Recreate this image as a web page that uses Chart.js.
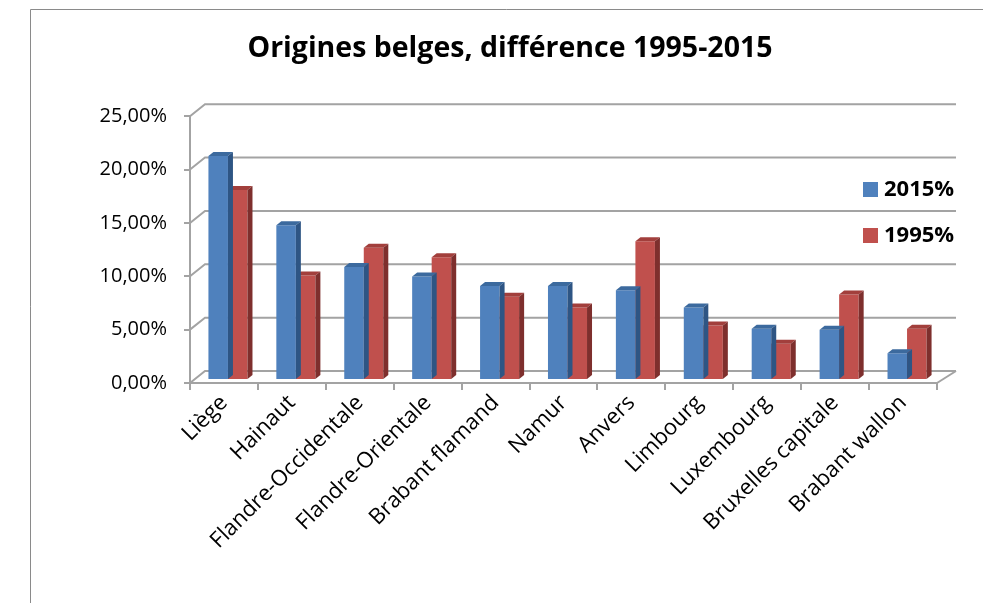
<!DOCTYPE html>
<html>
<head>
<meta charset="utf-8">
<script src="https://cdn.jsdelivr.net/npm/chart.js@4"></script>
<style>
  html, body { margin: 0; padding: 0; background: #fff; }
  #wrap { position: relative; width: 983px; height: 603px; }
</style>
</head>
<body>
<div id="wrap"><canvas id="chart" width="983" height="603"></canvas></div>
<script>
// Données
const provinces = ['Liège', 'Hainaut', 'Flandre-Occidentale', 'Flandre-Orientale', 'Brabant flamand',
    'Namur', 'Anvers', 'Limbourg', 'Luxembourg', 'Bruxelles capitale', 'Brabant wallon'];
const valeurs2015 = [21.0, 14.5, 10.6, 9.7, 8.8, 8.8, 8.4, 6.8, 4.8, 4.7, 2.5];
const valeurs1995 = [17.8, 9.8, 12.4, 11.5, 7.8, 6.8, 13.0, 5.1, 3.4, 8.0, 4.8];
const seriesLabels = ['2015%', '1995%'];
const yTicks = [0, 5, 10, 15, 20, 25];

// Couleurs des faces (avant, dessus, côté)
const faces = [
    { front: '#4F81BD', top: '#3C6A9E', side: '#2E5584' },
    { front: '#C0504D', top: '#A23F3C', side: '#7E2F2D' }
];

const DEPTH_X = 5, DEPTH_Y = -4;     // profondeur des barres
const WALL_X = 15, WALL_Y = -12;     // décalage du mur du fond
const SHIFT_X = 4, SHIFT_Y = -3;     // barres au milieu de la profondeur
const gridColor = '#A3A3A3';

function fmtPct(v) {
    return v.toFixed(2).replace('.', ',') + '%';
}

// Cadre, mur du fond et sol
const wallPlugin = {
    id: 'wall',
    beforeDraw(chart) {
        const ctx = chart.ctx;
        ctx.save();
        ctx.strokeStyle = '#8A8A8A';
        ctx.lineWidth = 1;
        ctx.beginPath();
        ctx.moveTo(30.5, 603);
        ctx.lineTo(30.5, 9.5);
        ctx.lineTo(983, 9.5);
        ctx.stroke();
        ctx.restore();
    },
    beforeDatasetsDraw(chart) {
        const ctx = chart.ctx;
        const y = chart.scales.y;
        const area = chart.chartArea;
        ctx.save();
        ctx.strokeStyle = gridColor;
        ctx.lineWidth = 2;
        yTicks.forEach(v => {
            const py = y.getPixelForValue(v);
            ctx.beginPath();
            ctx.moveTo(area.left, py);
            ctx.lineTo(area.left + WALL_X, py + WALL_Y);
            ctx.lineTo(area.right + WALL_X + 4, py + WALL_Y);
            ctx.stroke();
        });
        // bord droit du sol
        const py0 = y.getPixelForValue(0);
        ctx.beginPath();
        ctx.moveTo(area.right, py0);
        ctx.lineTo(area.right + WALL_X + 4, py0 + WALL_Y);
        ctx.stroke();
        ctx.restore();

        ctx.save();
        ctx.translate(SHIFT_X, SHIFT_Y);
    },
    afterDatasetDraw(chart, args) {
        const ctx = chart.ctx;
        const f = faces[args.index];
        args.meta.data.forEach(bar => {
            const p = bar.getProps(['x', 'y', 'base', 'width'], true);
            const l = p.x - p.width / 2, r = p.x + p.width / 2;
            // dessus
            ctx.fillStyle = f.top;
            ctx.beginPath();
            ctx.moveTo(l, p.y);
            ctx.lineTo(l + DEPTH_X, p.y + DEPTH_Y);
            ctx.lineTo(r + DEPTH_X, p.y + DEPTH_Y);
            ctx.lineTo(r, p.y);
            ctx.closePath();
            ctx.fill();
            // côté
            ctx.fillStyle = f.side;
            ctx.beginPath();
            ctx.moveTo(r, p.y);
            ctx.lineTo(r + DEPTH_X, p.y + DEPTH_Y);
            ctx.lineTo(r + DEPTH_X, p.base + DEPTH_Y);
            ctx.lineTo(r, p.base);
            ctx.closePath();
            ctx.fill();
        });
    },
    afterDatasetsDraw(chart) {
        chart.ctx.restore();
    }
};

// Légende dessinée à droite, par-dessus le mur
const legendPlugin = {
    id: 'sideLegend',
    afterDraw(chart) {
        const ctx = chart.ctx;
        ctx.save();
        ctx.font = 'bold 22px "Open Sans"';
        ctx.textBaseline = 'middle';
        chart.data.datasets.forEach((ds, i) => {
            const top = 182 + i * 46;
            ctx.fillStyle = ds.backgroundColor;
            ctx.fillRect(863, top, 15, 15);
            ctx.fillStyle = '#000';
            ctx.fillText(ds.label, 884, top + 8);
        });
        ctx.restore();
    }
};

const ctx = document.getElementById('chart').getContext('2d');
new Chart(ctx, {
    type: 'bar',
    data: {
        labels: provinces,
        datasets: [
            { label: seriesLabels[0], data: valeurs2015, backgroundColor: faces[0].front },
            { label: seriesLabels[1], data: valeurs1995, backgroundColor: faces[1].front }
        ]
    },
    options: {
        responsive: false,
        animation: false,
        events: [],
        layout: { padding: { left: 37, right: 0, top: 0, bottom: 0 } },
        datasets: { bar: { categoryPercentage: 0.575, barPercentage: 1 } },
        plugins: {
            legend: { display: false },
            tooltip: { enabled: false },
            title: {
                display: true,
                text: 'Origines belges, différence 1995-2015',
                color: '#000',
                font: { family: '"Open Sans"', size: 28.5, weight: 'bold', lineHeight: 1.2 },
                padding: { top: 32, bottom: 50 }
            }
        },
        scales: {
            x: {
                grid: {
                    offset: true, drawOnChartArea: false, drawTicks: true,
                    tickLength: 7, color: gridColor, lineWidth: 2
                },
                border: { display: true, color: gridColor, width: 2 },
                ticks: {
                    color: '#000', minRotation: 45, maxRotation: 45, padding: 0,
                    font: { family: '"Open Sans"', size: 22 }
                },
                afterFit(scale) { scale.height = 220; }
            },
            y: {
                min: 0, max: 25,
                grid: { drawOnChartArea: false, tickLength: 6, color: gridColor, lineWidth: 2 },
                border: { display: true, color: gridColor, width: 2 },
                ticks: {
                    stepSize: 5, color: '#000', padding: 17,
                    font: { family: '"Open Sans"', size: 20 },
                    callback: v => fmtPct(v)
                },
                afterFit(scale) { scale.width = 153; }
            },
            y2: {
                position: 'right', min: 0, max: 25,
                grid: { display: false },
                border: { display: false },
                ticks: { display: false },
                afterFit(scale) { scale.width = 46; }
            }
        }
    },
    plugins: [wallPlugin, legendPlugin]
});
</script>
</body>
</html>
